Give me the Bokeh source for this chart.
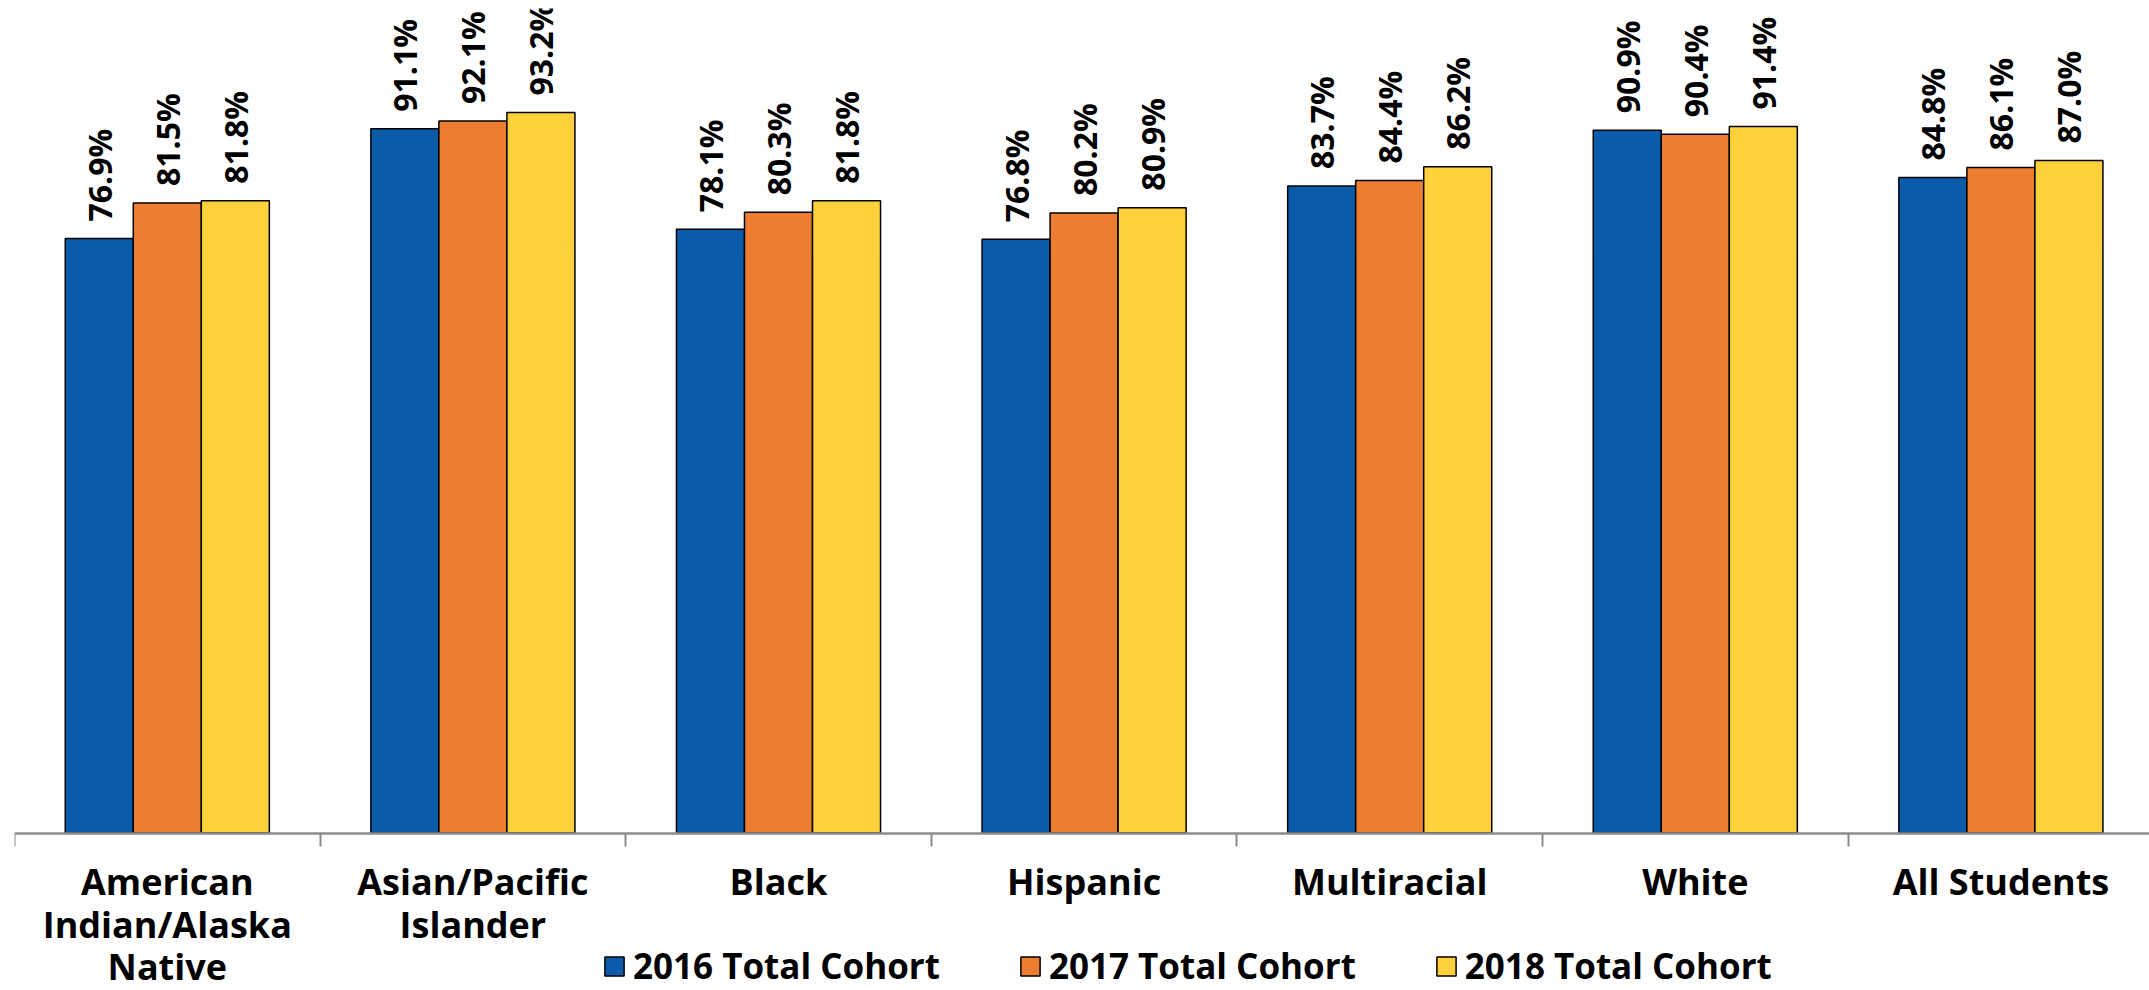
import numpy as np
from bokeh.plotting import figure
from bokeh.models import ColumnDataSource, FixedTicker, Range1d, Legend, LegendItem
from bokeh.core.properties import value
from bokeh.embed import file_html
from bokeh.resources import INLINE

categories = ["American\nIndian/Alaska\nNative", "Asian/Pacific\nIslander", "Black",
              "Hispanic", "Multiracial", "White", "All Students"]
series_names = ["2016 Total Cohort", "2017 Total Cohort", "2018 Total Cohort"]
rates_2016 = [76.9, 91.1, 78.1, 76.8, 83.7, 90.9, 84.8]
rates_2017 = [81.5, 92.1, 80.3, 80.2, 84.4, 90.4, 86.1]
rates_2018 = [81.8, 93.2, 81.8, 80.9, 86.2, 91.4, 87.0]
colors = ["#0A5BAA", "#ED7D31", "#FED03C"]

FONT = "Open Sans"
cat_w = 305.6          # px per category
px_per_unit = 7.73     # px per percentage point
frame_w, frame_h = 2135, 982
zero_px = 824.5        # distance of the zero line from the top of the frame

p = figure(frame_width=frame_w, frame_height=frame_h, output_backend="svg", toolbar_location=None,
           x_range=Range1d(-0.5, -0.5 + frame_w / cat_w),
           y_range=Range1d(-(frame_h - zero_px) / px_per_unit, zero_px / px_per_unit),
           min_border_left=14, min_border_right=0, min_border_top=8, min_border_bottom=0,
           y_axis_location=None)
p.outline_line_color = None
p.xgrid.visible = False
p.ygrid.visible = False

bw = 0.2226
offsets = [-bw, 0.0, bw]
x_idx = np.arange(len(categories))
renderers = []
for k, (vals, col) in enumerate(zip([rates_2016, rates_2017, rates_2018], colors)):
    src = ColumnDataSource(dict(x=x_idx + offsets[k], top=vals,
                                label=[f"{v:.1f}%" for v in vals]))
    r = p.vbar(x="x", top="top", bottom=0, width=bw, source=src, fill_color=col,
               line_color="black", line_width=1.5)
    renderers.append(r)
    p.text(x="x", y="top", text="label", source=src, angle=np.pi / 2,
           text_align="left", text_baseline="middle", y_offset=-17,
           text_font=value(FONT), text_font_style="bold", text_font_size="32px",
           text_color="black")

ax = p.xaxis[0]
ax.fixed_location = 0
ax.ticker = FixedTicker(ticks=list(range(len(categories))),
                        minor_ticks=[i - 0.5 for i in range(len(categories) + 1)])
ax.major_label_overrides = {i: c for i, c in enumerate(categories)}
ax.major_tick_out = 0
ax.major_tick_in = 0
ax.major_tick_line_color = None
ax.minor_tick_out = 13
ax.minor_tick_in = 0
ax.minor_tick_line_color = "#8C8C8C"
ax.minor_tick_line_width = 2
ax.axis_line_color = "#8C8C8C"
ax.axis_line_width = 2.5
ax.major_label_text_font = FONT
ax.major_label_text_font_style = "bold"
ax.major_label_text_font_size = "36px"
ax.major_label_text_line_height = 0.87
ax.major_label_text_color = "black"
ax.major_label_standoff = 11

legend = Legend(items=[LegendItem(label=n, renderers=[r]) for n, r in zip(series_names, renderers)],
                location=(588, 1), orientation="horizontal",
                glyph_width=24, glyph_height=24, label_standoff=7, spacing=78,
                padding=0, margin=0, border_line_alpha=0, background_fill_alpha=0,
                label_text_font=FONT, label_text_font_style="bold",
                label_text_font_size="35px", label_text_color="black")
p.add_layout(legend, "center")

open("out.html", "w").write(file_html(p, INLINE))
